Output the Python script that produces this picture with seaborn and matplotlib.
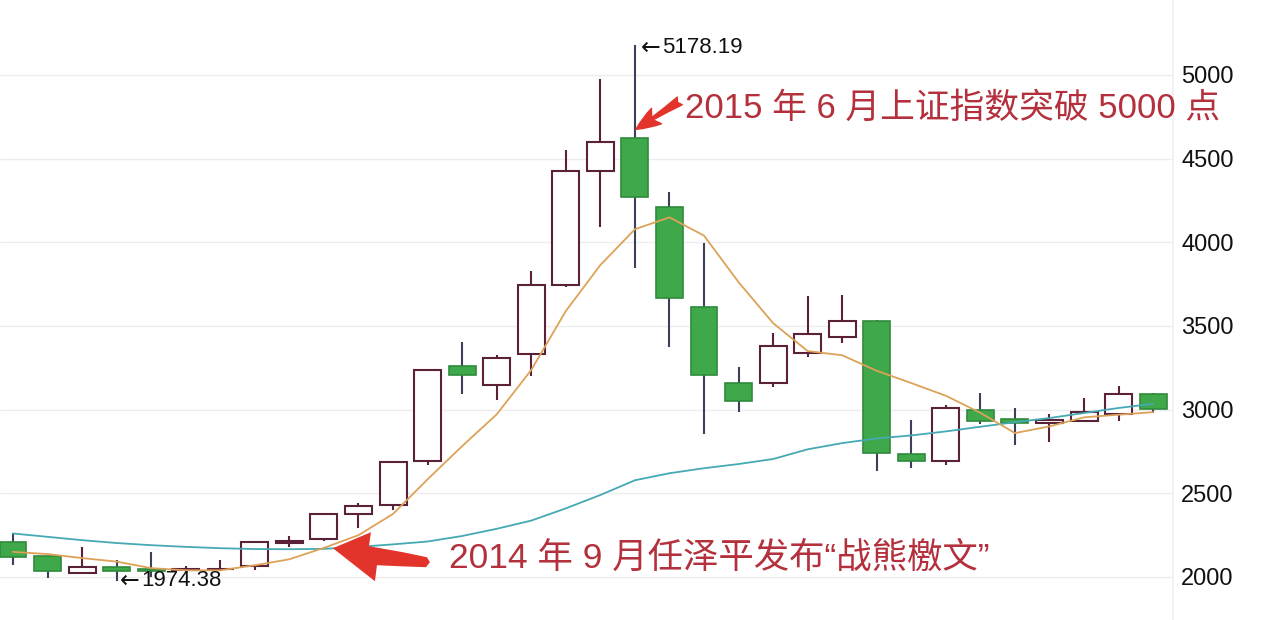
"""
plot.py
-------
Shanghai Composite monthly candles, Dec 2013 - Sep 2016, with two moving averages.
"""

import numpy as np
import pandas as pd
import matplotlib
matplotlib.use("Agg")
import matplotlib.pyplot as plt
import matplotlib.transforms as mtransforms
import seaborn as sns

# ─────────────────────────────────────────────
# Data
# ─────────────────────────────────────────────
MONTHS = ["2013-12",
          "2014-01", "2014-02", "2014-03", "2014-04", "2014-05", "2014-06",
          "2014-07", "2014-08", "2014-09", "2014-10", "2014-11", "2014-12",
          "2015-01", "2015-02", "2015-03", "2015-04", "2015-05", "2015-06",
          "2015-07", "2015-08", "2015-09", "2015-10", "2015-11", "2015-12",
          "2016-01", "2016-02", "2016-03", "2016-04", "2016-05", "2016-06",
          "2016-07", "2016-08", "2016-09"]

OPENS  = [2209, 2125, 2024, 2060, 2045, 2040, 2045, 2066, 2204, 2227, 2377, 2430,
          2693, 3261, 3147, 3333, 3745, 4426, 4624, 4211, 3614, 3160, 3160, 3339,
          3434, 3530, 2735, 2693, 2998, 2944, 2920, 2932, 2974, 3094]
HIGHS  = [2263, 2128, 2179, 2102, 2150, 2065, 2100, 2212, 2245, 2380, 2440, 2690,
          3240, 3405, 3327, 3829, 4552, 4976, 5178.19, 4301, 3996, 3255, 3458, 3680,
          3685, 3535, 2938, 3028, 3100, 3010, 2974, 3070, 3142, 3100]
LOWS   = [2072, 1994, 2020, 1974.38, 2000, 2025, 2035, 2042, 2179, 2215, 2293, 2400,
          2669, 3095, 3058, 3201, 3733, 4092, 3847, 3375, 2855, 2986, 3136, 3315,
          3398, 2633, 2651, 2670, 2915, 2789, 2807, 2930, 2932, 2980]
CLOSES = [2120, 2036, 2060, 2036, 2038, 2047, 2050, 2209, 2214, 2377, 2424, 2687,
          3237, 3207, 3309, 3745, 4426, 4600, 4271, 3667, 3207, 3052, 3381, 3452,
          3530, 2741, 2693, 3010, 2932, 2920, 2938, 2986, 3094, 3004]

MA_SHORT = [2150, 2137, 2113, 2092, 2053, 2040, 2040, 2070, 2106, 2174, 2250, 2377,
            2584, 2782, 2972, 3237, 3589, 3864, 4078, 4149, 4040, 3762, 3517, 3350,
            3325, 3232, 3159, 3083, 2981, 2860, 2900, 2954, 2970, 2985]
MA_LONG  = [2260, 2240, 2220, 2203, 2190, 2180, 2172, 2167, 2166, 2168, 2180, 2195,
            2212, 2245, 2288, 2337, 2410, 2490, 2578, 2620, 2650, 2675, 2705, 2763,
            2800, 2828, 2846, 2870, 2898, 2925, 2950, 2980, 3010, 3035]

Y_TICKS = [2000, 2500, 3000, 3500, 4000, 4500, 5000]

NOTE_TOP    = "2015 年 6 月上证指数突破 5000 点"
NOTE_BOTTOM = "2014 年 9 月任泽平发布“战熊檄文”"

# ─────────────────────────────────────────────
# Style
# ─────────────────────────────────────────────
UP_EDGE    = "#5b2139"
DOWN_FILL  = "#3fa84b"
DOWN_EDGE  = "#2f8a3c"
DOWN_WICK  = "#3d405c"
MA_S_COL   = "#dda257"
MA_L_COL   = "#45a9b3"
NOTE_COL   = "#b3303c"
ARROW_COL  = "#e3342c"
GRID_COL   = "#ededf0"

sns.set_theme(style="white")
plt.rcParams["font.family"] = ["Noto Sans CJK SC", "DejaVu Sans"]
NUM_FONT  = ["Liberation Sans", "DejaVu Sans"]
NOTE_FONT = ["Liberation Sans", "Noto Sans CJK SC", "DejaVu Sans"]

df = pd.DataFrame({"month": MONTHS, "open": OPENS, "high": HIGHS,
                   "low": LOWS, "close": CLOSES,
                   "ma_short": MA_SHORT, "ma_long": MA_LONG})
df["idx"] = np.arange(len(df))
df["up"] = df["close"] >= df["open"]

fig = plt.figure(figsize=(12.88, 6.20), dpi=100)
fig.patch.set_facecolor("white")
ax = fig.add_axes([0, 0, 1173 / 1288, 1])
ax.set_facecolor("white")
ax.set_xlim(-13 / 34.55, (1173 - 13) / 34.55)
ax.set_ylim(1743, 5448)

# grid
for v in Y_TICKS:
    ax.axhline(v, color=GRID_COL, lw=1.0, zorder=0)

# candles: wicks, then bodies on top
w = 0.78
up, dn = df[df["up"]], df[~df["up"]]
ax.vlines(up["idx"], up["low"], up["high"], color=UP_EDGE, lw=1.5, zorder=2)
ax.vlines(dn["idx"], dn["low"], dn["high"], color=DOWN_WICK, lw=1.5, zorder=2)

ax.bar(up["idx"], np.maximum(up["close"] - up["open"], 4), w,
       bottom=up["open"], color="white", edgecolor=UP_EDGE, lw=1.5, zorder=3)
ax.bar(dn["idx"], np.maximum(dn["open"] - dn["close"], 4), w,
       bottom=dn["close"], color=DOWN_FILL, edgecolor=DOWN_EDGE, lw=1.2, zorder=3)

# moving averages
sns.lineplot(data=df, x="idx", y="ma_long", color=MA_L_COL, lw=1.3, ax=ax, zorder=4)
sns.lineplot(data=df, x="idx", y="ma_short", color=MA_S_COL, lw=1.3, ax=ax, zorder=4)


def extreme_label(x, y, value):
    arr = ax.text(x, y, "←", fontsize=17, family=["DejaVu Sans"], color="#111111",
                  ha="left", va="center", zorder=6)
    ax.annotate(f"{value:.2f}", xy=(1, 0.5), xycoords=arr, xytext=(1, 0),
                textcoords="offset points", fontsize=16, family=NUM_FONT,
                color="#111111", ha="left", va="center", zorder=6)


def swoosh_arrow(tip, offsets):
    # offsets in pixels from the tip, image style (x right, y down)
    tx, ty = ax.transData.transform(tip)
    pts = [(0, 0)] + offsets
    xs = [tx + dx for dx, dy in pts]
    ys = [ty - dy for dx, dy in pts]
    ax.fill(xs, ys, color=ARROW_COL, transform=mtransforms.IdentityTransform(),
            zorder=6, lw=0)


i_hi = int(np.argmax(HIGHS))
i_lo = int(np.argmin(LOWS))
extreme_label(i_hi + 0.18, HIGHS[i_hi] - 15, HIGHS[i_hi])
extreme_label(i_lo + 0.10, LOWS[i_lo] + 4, LOWS[i_lo])

# notes with arrows
ax.text(19.45, 4800, NOTE_TOP, fontsize=25, color=NOTE_COL, family=NOTE_FONT,
        ha="left", va="center", zorder=6)
ax.annotate("", xy=(18.03, 4675), xytext=(19.30, 4845),
            arrowprops=dict(arrowstyle="fancy,head_length=0.8,head_width=0.6,tail_width=0.3",
                            color=ARROW_COL, mutation_scale=22, shrinkA=0, shrinkB=0,
                            connectionstyle="arc3,rad=0.0"), zorder=6)

ax.text(12.62, 2110, NOTE_BOTTOM, fontsize=25.5, color=NOTE_COL, family=NOTE_FONT,
        ha="left", va="center", zorder=6)
swoosh_arrow((9.26, 2172),
             [(38, -16), (36, -2), (70, 4), (94, 9), (97, 14), (93, 19),
              (66, 18), (44, 17), (42, 33)])

# axes
ax.yaxis.tick_right()
ax.set_yticks(Y_TICKS)
ax.set_yticklabels([str(v) for v in Y_TICKS], family=NUM_FONT, fontsize=17, color="#111111")
ax.tick_params(axis="y", length=0, pad=6)
ax.set_xticks([])
ax.set_xlabel(""); ax.set_ylabel("")
for name, s in ax.spines.items():
    s.set_visible(name == "right")
ax.spines["right"].set_color("#f0f0f2")

fig.savefig("out.png", dpi=100, facecolor="white")
plt.close(fig)
print("[Plot] → out.png")
